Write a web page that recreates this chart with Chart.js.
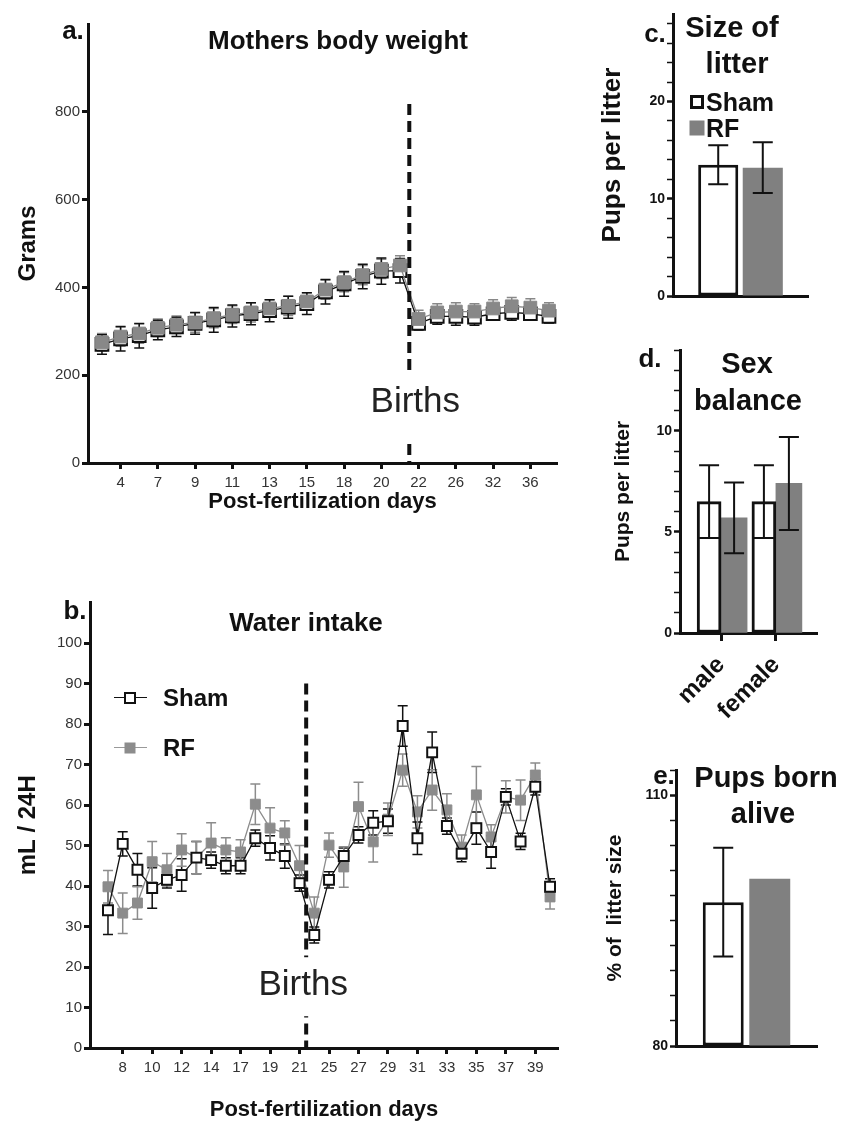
<!DOCTYPE html>
<html>
<head>
<meta charset="utf-8">
<script src="https://cdn.jsdelivr.net/npm/chart.js@4.4.1/dist/chart.umd.min.js"></script>
<style>
  body { margin: 0; background: #fff; }
  #page { position: relative; width: 848px; height: 1129px; overflow: hidden; font-family: "Liberation Sans", Arial, sans-serif; color: #111; }
  canvas { position: absolute; }
  .t { position: absolute; font-weight: bold; white-space: nowrap; line-height: 1; transform: translate(-50%, -50%); }
  .l { position: absolute; font-weight: bold; white-space: nowrap; line-height: 1; transform: translateY(-50%); }
  .sq { position: absolute; box-sizing: border-box; transform: translate(-50%, -50%); }
  .ln { position: absolute; height: 0; }
</style>
</head>
<body>
<div id="page">
  <canvas id="cA" width="590" height="525" style="left:0;top:0"></canvas>
  <canvas id="cB" width="590" height="549" style="left:0;top:580px"></canvas>
  <canvas id="cC" width="258" height="320" style="left:590px;top:0"></canvas>
  <canvas id="cD" width="258" height="420" style="left:590px;top:330px"></canvas>
  <canvas id="cE" width="258" height="379" style="left:590px;top:750px"></canvas>

  <div class="t" style="left:73px;top:30px;font-size:26px">a.</div>
  <div class="t" style="left:338px;top:40px;font-size:26px">Mothers body weight</div>
  <div class="t" style="left:75px;top:610px;font-size:26px">b.</div>
  <div class="t" style="left:306px;top:622px;font-size:26px">Water intake</div>

  <div class="ln" style="left:114px;top:697px;width:33px;border-top:1.5px solid #111"></div>
  <div class="sq" style="left:130px;top:698px;width:12px;height:12px;border:2px solid #111;background:#fff"></div>
  <div class="l" style="left:163px;top:698px;font-size:24px">Sham</div>
  <div class="ln" style="left:114px;top:747px;width:33px;border-top:1.5px solid #999"></div>
  <div class="sq" style="left:130px;top:748px;width:11px;height:11px;background:#8c8c8c"></div>
  <div class="l" style="left:163px;top:748px;font-size:24px">RF</div>

  <div class="t" style="left:655px;top:33px;font-size:26px">c.</div>
  <div class="t" style="left:732px;top:27px;font-size:29px">Size of</div>
  <div class="t" style="left:737px;top:63px;font-size:29px">litter</div>
  <div class="sq" style="left:697px;top:102px;width:14px;height:14px;border:3px solid #111;background:#fff"></div>
  <div class="l" style="left:706px;top:102px;font-size:25px">Sham</div>
  <div class="sq" style="left:697px;top:128px;width:15px;height:15px;background:#808080"></div>
  <div class="l" style="left:706px;top:128px;font-size:25px">RF</div>

  <div class="t" style="left:650px;top:358px;font-size:26px">d.</div>
  <div class="t" style="left:747px;top:363px;font-size:29px">Sex</div>
  <div class="t" style="left:748px;top:400px;font-size:29px">balance</div>

  <div class="t" style="left:664px;top:775px;font-size:26px">e.</div>
  <div class="t" style="left:766px;top:777px;font-size:29px">Pups born</div>
  <div class="t" style="left:763px;top:813px;font-size:29px">alive</div>
</div>
<script>
// a. Mothers body weight (grams), one point per weighing day
const daysA = [3, 4, 5, 7, 8, 9, 10, 11, 12, 13, 14, 15, 17, 18, 19, 20, 21, 22, 24, 26, 29, 32, 34, 36, 38];
const shamA = [270, 283, 290, 303, 310, 318, 326, 335, 340, 347, 355, 363, 390, 408, 425, 437, 438, 318, 334, 334, 332, 340, 343, 340, 334];
const rfA = [275, 288, 295, 308, 315, 320, 330, 338, 343, 352, 358, 368, 395, 412, 428, 442, 450, 328, 343, 345, 345, 352, 357, 354, 347];
const shamErrA = [22, 28, 28, 22, 22, 25, 28, 25, 25, 25, 25, 25, 28, 28, 28, 30, 28, 15, 18, 20, 18, 15, 18, 15, 15];
const rfErrA = [20, 22, 22, 20, 20, 22, 22, 20, 22, 20, 22, 20, 22, 22, 22, 22, 22, 20, 20, 20, 18, 20, 20, 20, 18];
const yTicksA = [0, 200, 400, 600, 800];

// b. Water intake (mL / 24H)
const daysB = [7, 8, 9, 10, 11, 12, 13, 14, 15, 17, 18, 19, 20, 21, 23, 25, 26, 27, 28, 29, 30, 31, 32, 33, 34, 35, 36, 37, 38, 39, 40];
const shamB = [34, 50.4, 44, 39.5, 41.5, 42.7, 47, 46.4, 45, 45, 51.8, 49.4, 47.4, 40.7, 27.9, 41.5, 47.4, 52.6, 55.6, 56, 79.5, 51.8, 73, 54.8, 48, 54.3, 48.4, 62, 51, 64.5, 39.8];
const rfB = [39.8, 33.3, 35.8, 46, 44, 48.9, 47, 50.6, 48.9, 48.4, 60.2, 54.3, 53.1, 45, 33.3, 50.1, 44.7, 59.6, 50.9, 56.5, 68.6, 58.3, 63.7, 58.8, 49.6, 62.5, 52.1, 62, 61.2, 67.4, 37.3];
const shamErrB = [6, 3, 4, 5, 2, 4, 4, 2, 2, 2, 2, 3, 3, 2, 2, 2, 2, 2, 3, 3, 5, 4, 5, 2, 2, 4, 4, 2, 2, 2, 2];
const rfErrB = [4, 5, 4, 5, 4, 4, 4, 5, 3, 3, 5, 5, 3, 5, 4, 3, 5, 6, 5, 4, 4, 4, 5, 4, 3, 7, 3, 4, 5, 3, 3];
const yTicksB = [0, 10, 20, 30, 40, 50, 60, 70, 80, 90, 100];

// c. Size of litter (pups per litter)
const litterSize = [13.5, 13.2];
const litterErr = [2.0, 2.6];

// d. Sex balance
const sexLabels = ['male', 'female'];
const shamSex = [6.5, 6.5];
const shamSexErr = [1.8, 1.8];
const rfSex = [5.7, 7.4];
const rfSexErr = [1.75, 2.3];

// e. Pups born alive (% of litter size)
const bornAlive = [97.2, 100];
const bornAliveErr = [6.5, 0];

const FONT = '"Liberation Sans", Arial, sans-serif';
const INK = '#111';
const GREY = '#808080';

function drawErrors(chart) {
  const ctx = chart.ctx;
  chart.data.datasets.forEach((ds, i) => {
    if (!ds.errors) return;
    const meta = chart.getDatasetMeta(i);
    const ys = meta.vScale;
    ctx.save();
    ctx.strokeStyle = ds.errorColor;
    ctx.lineWidth = ds.errorWidth || 1.5;
    meta.data.forEach((el, j) => {
      const e = ds.errors[j];
      if (!e) return;
      const raw = ds.data[j];
      const v = typeof raw === 'object' ? raw.y : raw;
      const t = ys.getPixelForValue(v + e);
      const b = ys.getPixelForValue(v - e);
      const c = ds.capWidth / 2;
      ctx.beginPath();
      ctx.moveTo(el.x, t); ctx.lineTo(el.x, b);
      ctx.moveTo(el.x - c, t); ctx.lineTo(el.x + c, t);
      ctx.moveTo(el.x - c, b); ctx.lineTo(el.x + c, b);
      ctx.stroke();
    });
    ctx.restore();
  });
}

const errorBars = {
  id: 'errorBars',
  beforeDatasetsDraw(chart, args, o) { if (o.behind) drawErrors(chart); },
  afterDatasetsDraw(chart, args, o) { if (!o.behind) drawErrors(chart); }
};

// dashed "Births" marker, given in data units
const births = {
  id: 'births',
  afterDatasetsDraw(chart, args, o) {
    if (o.at === undefined) return;
    const { ctx, scales: { x, y } } = chart;
    const px = x.getPixelForValue(o.at);
    ctx.save();
    ctx.strokeStyle = INK;
    ctx.lineWidth = 4;
    ctx.setLineDash([11, 6]);
    ctx.beginPath();
    ctx.moveTo(px, y.getPixelForValue(o.top));
    ctx.lineTo(px, y.getPixelForValue(y.min));
    ctx.stroke();
    ctx.setLineDash([]);
    ctx.font = '35px ' + FONT;
    const ty = y.getPixelForValue(o.textAt);
    const tx = px + o.dx;
    const w = ctx.measureText('Births').width;
    ctx.fillStyle = '#fff';
    ctx.fillRect(tx - w / 2 - 3, ty - o.gapUp, w + 6, o.gapUp + o.gapDown);
    ctx.fillStyle = '#222';
    ctx.textAlign = 'center';
    ctx.textBaseline = 'middle';
    ctx.fillText('Births', tx, ty);
    ctx.restore();
  }
};

const tickFontAB = { family: FONT, size: 15 };
const tickFontCDE = { family: FONT, size: 14, weight: 'bold' };
const titleFont = (size) => ({ family: FONT, size: size, weight: 'bold' });

function lineSet(label, values, errors, ink, fill, radius, bw) {
  return {
    label: label,
    data: values.map((y, i) => ({ x: i, y: y })),
    errors: errors,
    errorColor: ink,
    capWidth: 10,
    borderColor: ink,
    borderWidth: 1.3,
    pointStyle: 'rect',
    pointRadius: radius,
    pointBackgroundColor: fill,
    pointBorderColor: ink,
    pointBorderWidth: bw
  };
}

function timeChart(id, days, rf, rfErr, sham, shamErr, opt) {
  const datasetsAB = opt.shamOnTop
    ? [lineSet('Sham', sham, shamErr, INK, '#fff', opt.r, 2), lineSet('RF', rf, rfErr, '#8c8c8c', '#8c8c8c', opt.r, 1)]
    : [lineSet('RF', rf, rfErr, '#888', '#888', opt.r, 1), lineSet('Sham', sham, shamErr, INK, '#fff', opt.r, 2)];
  return new Chart(document.getElementById(id), {
    type: 'line',
    data: { datasets: datasetsAB },
    plugins: [errorBars, births],
    options: {
      responsive: false,
      animation: false,
      layout: { padding: { top: opt.top, right: opt.right, left: 0, bottom: 0 } },
      plugins: {
        legend: { display: false },
        tooltip: { enabled: false },
        errorBars: { behind: true },
        births: opt.births
      },
      scales: {
        x: {
          type: 'linear',
          min: opt.xMin,
          max: opt.xMax,
          afterFit: (s) => { s.height = opt.xH; },
          afterBuildTicks: (s) => { s.ticks = days.map((d, i) => ({ value: i })).filter((t) => t.value % 2 === 1); },
          ticks: { autoSkip: false, maxRotation: 0, font: tickFontAB, color: '#333', padding: 5, callback: (v) => days[v] },
          grid: { drawOnChartArea: false, tickLength: 6, tickWidth: 3, tickColor: INK },
          border: { color: INK, width: 3 },
          title: { display: true, text: 'Post-fertilization days', font: titleFont(22), color: INK, padding: { top: 0, bottom: opt.xtPad } }
        },
        y: {
          min: 0,
          max: opt.yMax,
          afterFit: (s) => { s.width = opt.yW; },
          afterBuildTicks: (s) => { s.ticks = opt.yTicks.map((v) => ({ value: v })); },
          ticks: { font: tickFontAB, color: '#333', padding: 2 },
          grid: { drawOnChartArea: false, tickLength: 6, tickWidth: 3, tickColor: INK },
          border: { color: INK, width: 3 },
          title: { display: true, text: opt.yTitle, font: titleFont(24), color: INK, padding: { top: 13.6, bottom: 0 } }
        }
      }
    }
  });
}

timeChart('cA', daysA, rfA, rfErrA, shamA, shamErrA, {
  top: 24, right: 33, xH: 62, yW: 88, xMin: -0.75, xMax: 24.43, yMax: 1000, yTicks: yTicksA,
  yTitle: 'Grams', xtPad: 9.8, r: 9, shamOnTop: false,
  births: { at: 16.5, top: 818, textAt: 139, dx: 6, gapUp: 32, gapDown: 37 }
});

timeChart('cB', daysB, rfB, rfErrB, shamB, shamErrB, {
  top: 22.5, right: 32, xH: 81, yW: 90, xMin: -1.22, xMax: 30.54, yMax: 110, yTicks: yTicksB,
  yTitle: 'mL / 24H', xtPad: 5.8, r: 7, shamOnTop: true,
  births: { at: 13.45, top: 90, textAt: 15.5, dx: -3, gapUp: 28, gapDown: 31 }
});

function barY(opt) {
  const ticks = [];
  for (let v = opt.min; v <= opt.max; v++) ticks.push(v);
  return {
    min: opt.min,
    max: opt.max,
    afterFit: (s) => { s.width = opt.w; },
    afterBuildTicks: (s) => { s.ticks = ticks.map((v) => ({ value: v })); },
    ticks: { font: tickFontCDE, color: INK, padding: 2, callback: (v) => (v % opt.major === 0 ? v : '') },
    grid: {
      drawOnChartArea: false, tickLength: 6, tickColor: INK,
      tickWidth: (c) => (c.tick && c.tick.value % opt.major === 0 ? 2.5 : 1.5)
    },
    border: { color: INK, width: 3 },
    title: { display: true, text: opt.title, font: titleFont(opt.tSize), color: INK, padding: { top: opt.tPad, bottom: 0 } }
  };
}

function shamBar(values, errors, extra) {
  return Object.assign({
    label: 'Sham', data: values, errors: errors, errorColor: INK, errorWidth: 2, capWidth: 20,
    backgroundColor: '#fff', borderColor: INK, borderWidth: 3, borderSkipped: false
  }, extra);
}
function rfBar(values, errors, extra) {
  return Object.assign({
    label: 'RF', data: values, errors: errors, errorColor: INK, errorWidth: 2, capWidth: 20,
    backgroundColor: GREY, borderWidth: 0
  }, extra);
}

const barBase = (top, right) => ({
  responsive: false,
  animation: false,
  layout: { padding: { top: top, right: right, left: 0, bottom: 0 } },
  plugins: { legend: { display: false }, tooltip: { enabled: false }, errorBars: { behind: false } }
});

// c. Size of litter
new Chart(document.getElementById('cC'), {
  type: 'bar',
  data: {
    labels: [''],
    datasets: [
      shamBar([litterSize[0]], [litterErr[0]], { categoryPercentage: 0.66, barPercentage: 0.9 }),
      rfBar([litterSize[1]], [litterErr[1]], { categoryPercentage: 0.66, barPercentage: 0.9 })
    ]
  },
  plugins: [errorBars],
  options: Object.assign(barBase(14, 40), {
    scales: {
      x: {
        afterFit: (s) => { s.height = 24; },
        ticks: { display: false },
        grid: { display: true, drawOnChartArea: false, drawTicks: false },
        border: { color: INK, width: 3 }
      },
      y: barY({ min: 0, max: 29, major: 10, w: 83, title: 'Pups per litter', tSize: 26, tPad: 7.4 })
    }
  })
});

// d. Sex balance
new Chart(document.getElementById('cD'), {
  type: 'bar',
  data: {
    datasets: [
      shamBar(shamSex.map((y, i) => ({ x: i, y: y })), shamSexErr, { barThickness: 24 }),
      rfBar(rfSex.map((y, i) => ({ x: i, y: y })), rfSexErr, { barThickness: 26 })
    ]
  },
  plugins: [errorBars],
  options: Object.assign(barBase(20, 31), {
    scales: {
      x: {
        type: 'linear',
        offset: false,
        min: -0.75,
        max: 1.75,
        afterFit: (s) => { s.height = 117; },
        afterBuildTicks: (s) => { s.ticks = sexLabels.map((d, i) => ({ value: i })); },
        ticks: { autoSkip: false, minRotation: 45, maxRotation: 45, font: { family: FONT, size: 24, weight: 'bold' }, color: INK, padding: 10, callback: (v) => sexLabels[v] },
        grid: { offset: false, drawOnChartArea: false, tickLength: 8, tickWidth: 3, tickColor: INK },
        border: { color: INK, width: 3 }
      },
      y: barY({ min: 0, max: 14, major: 5, w: 90, title: 'Pups per litter', tSize: 21, tPad: 20.4 })
    }
  })
});

// e. Pups born alive
new Chart(document.getElementById('cE'), {
  type: 'bar',
  data: {
    labels: [''],
    datasets: [
      shamBar([bornAlive[0]], [bornAliveErr[0]], { base: 80, categoryPercentage: 0.66, barPercentage: 0.88 }),
      rfBar([bornAlive[1]], [bornAliveErr[1]], { base: 80, categoryPercentage: 0.66, barPercentage: 0.88 })
    ]
  },
  plugins: [errorBars],
  options: Object.assign(barBase(20, 31), {
    scales: {
      x: {
        afterFit: (s) => { s.height = 83; },
        ticks: { display: false },
        grid: { display: true, drawOnChartArea: false, drawTicks: false },
        border: { color: INK, width: 3 }
      },
      y: barY({ min: 80, max: 113, major: 10, w: 86, title: '% of  litter size', tSize: 21, tPad: 12.4 })
    }
  })
});
</script>
</body>
</html>
